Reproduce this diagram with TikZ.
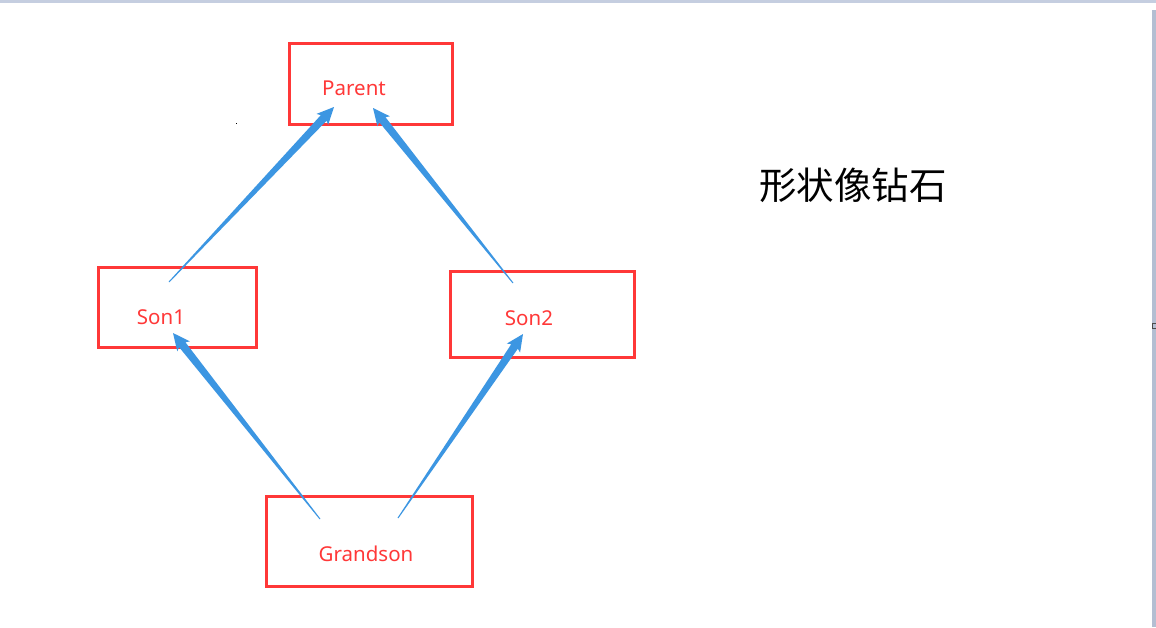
\documentclass[tikz,border=0pt]{standalone}
\usepackage{fontspec}
\setmainfont{Noto Sans}
\newfontfamily\cjk{Noto Sans CJK SC}
\usetikzlibrary{calc}
\definecolor{boxred}{RGB}{255,56,56}
\definecolor{arrowblue}{RGB}{60,150,226}
\definecolor{topstrip}{RGB}{197,206,224}
\definecolor{sidestrip}{RGB}{180,190,210}
\tikzset{
  box/.style={draw=boxred, line width=3pt, rectangle, inner sep=0pt},
  lbl/.style={text=boxred, font=\fontsize{20.5}{22}\selectfont, inner sep=0pt},
}
\newcommand{\taperarrow}[3]{%
  \coordinate (#3b) at ($(#2)!15pt!(#1)$);
  \coordinate (#3h) at ($(#2)!17pt!(#1)$);
  \fill[arrowblue]
    ($(#1)!0.5pt!90:(#2)$) -- ($(#3b)!4pt!90:(#2)$) -- ($(#3h)!8pt!90:(#2)$) --
    (#2) --
    ($(#3h)!8pt!-90:(#2)$) -- ($(#3b)!4pt!-90:(#2)$) -- ($(#1)!0.5pt!-90:(#2)$) -- cycle;
}
\begin{document}
\begin{tikzpicture}[x=1pt,y=-1pt]
\useasboundingbox[fill=white] (0,0) rectangle (1156,627);
% window frame strips
\fill[topstrip] (0,0) rectangle (1156,3);
\fill[sidestrip] (1152,10) rectangle (1156,627);
\draw[black!70, line width=0.8pt] (1152.5,323.5) rectangle (1156,328.5);
\fill[black] (235.5,122.5) rectangle (237,124);
% boxes
\node[box, minimum width=163pt, minimum height=81pt] (parent) at (370.5,84) {};
\node[box, minimum width=158pt, minimum height=80pt] (son1) at (177.5,307.5) {};
\node[box, minimum width=184pt, minimum height=86pt] (son2) at (542.5,314.5) {};
\node[box, minimum width=206pt, minimum height=90pt] (grandson) at (369.5,541.5) {};
% labels
\node[lbl] (tparent) at (354,88) {Parent};
\node[lbl] (tson1) at (161,317) {Son1};
\node[lbl] (tson2) at (529,318) {Son2};
\node[lbl] (tgrandson) at (366,554) {Grandson};
\node[font=\cjk\fontsize{37.5}{40}\selectfont, inner sep=0pt] (title) at (853,185) {形状像钻石};
% arrow end points
\coordinate (a1t) at (169,282);
\coordinate (a1h) at (334,107);
\coordinate (a2t) at (513,283);
\coordinate (a2h) at (373,108);
\coordinate (a3t) at (320,519);
\coordinate (a3h) at (173,333);
\coordinate (a4t) at (398,518);
\coordinate (a4h) at (523,334);
\taperarrow{a1t}{a1h}{ar1}
\taperarrow{a2t}{a2h}{ar2}
\taperarrow{a3t}{a3h}{ar3}
\taperarrow{a4t}{a4h}{ar4}
\end{tikzpicture}
\end{document}
